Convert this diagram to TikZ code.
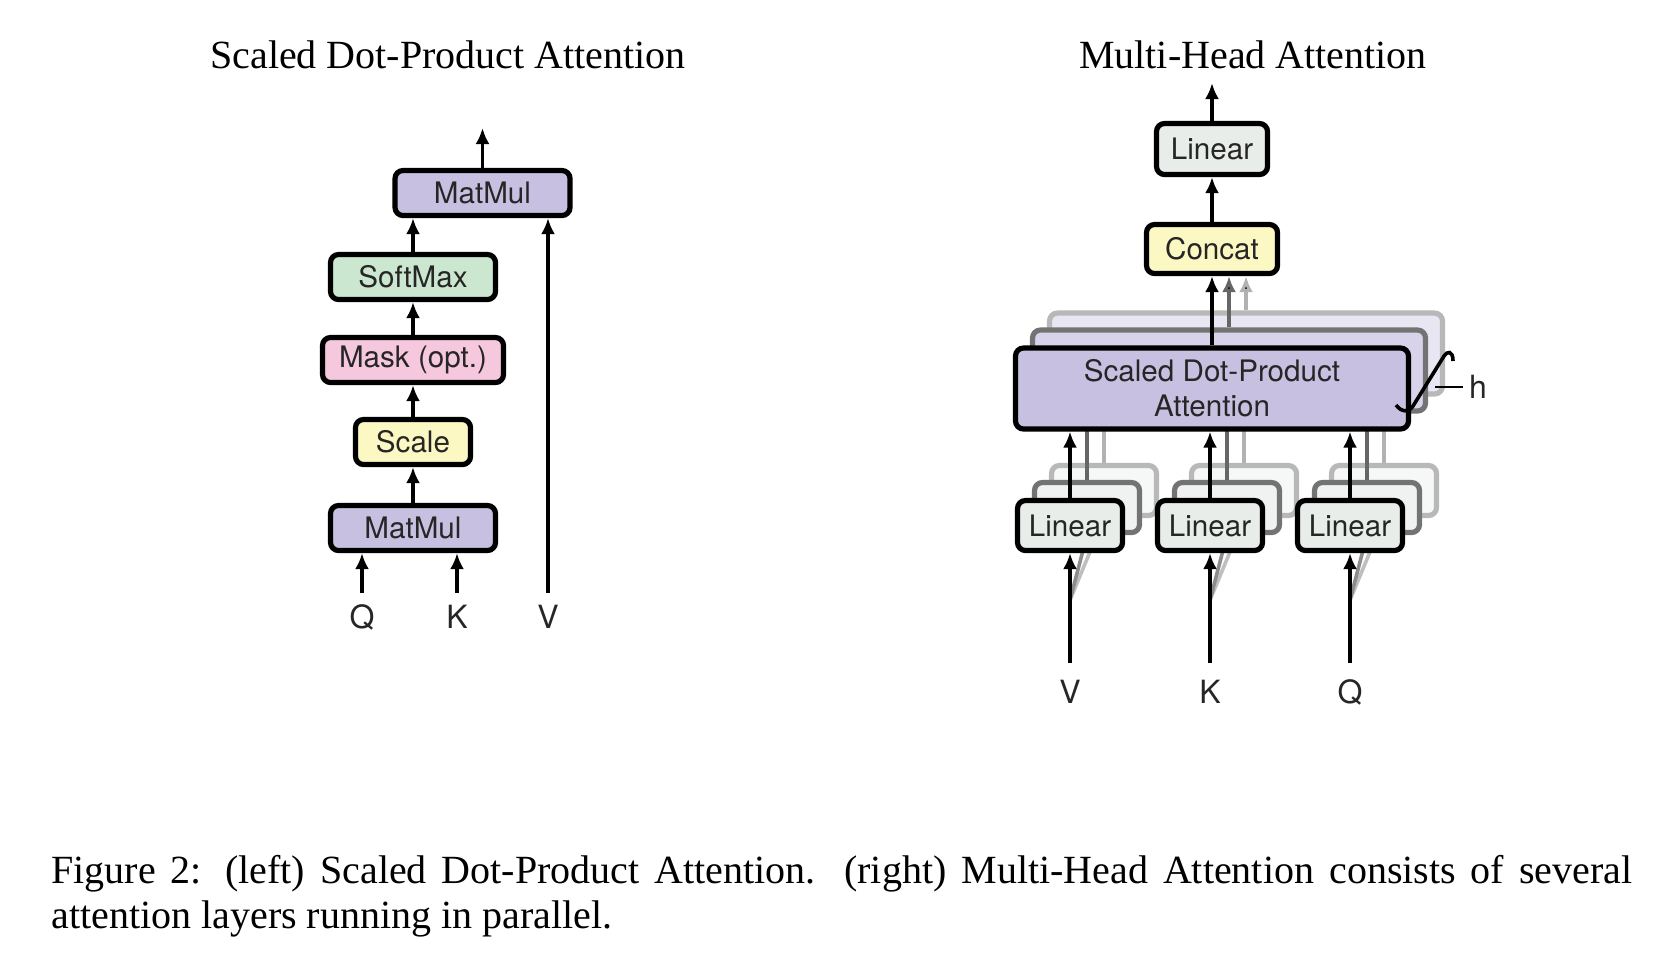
\documentclass[tikz,border=0pt]{standalone}
\usepackage{fontspec}
\setmainfont{Liberation Serif}
\newfontfamily\boxfont{TeX Gyre Heros}
\usetikzlibrary{arrows.meta, positioning}

\definecolor{matmulfill}{RGB}{199,192,225}
\definecolor{softfill}{RGB}{204,231,208}
\definecolor{maskfill}{RGB}{246,200,221}
\definecolor{scalefill}{RGB}{252,248,195}
\definecolor{linfill}{RGB}{232,237,234}

\begin{document}
\begin{tikzpicture}[x=0.5pt, y=-0.5pt, >={Latex[length=8pt,width=7pt]},
    node distance=70pt, align=center]

    \tikzset{
      block/.style = {draw, line width=2.6pt, rounded corners=4pt, inner sep=0pt,
        minimum height=22.5pt, text=black!85, font=\boxfont\fontsize{14.8}{17.5}\selectfont},
      ghostB/.style = {block, draw=black!55, fill=#1},
      ghostC/.style = {block, draw=black!28, fill=#1},
      flow/.style = {->, line width=1.8pt},
      qkv/.style = {font=\boxfont\fontsize{16}{18}\selectfont, text=black!85,
        text height=11.5pt, text depth=0pt, inner sep=6pt},
      title/.style = {font=\fontsize{20}{24}\selectfont},
    }

    \useasboundingbox (0,0) rectangle (1664,960);

    \node[title] (t1) at (448,55) {Scaled Dot-Product Attention};
    \node[title] (t2) at (1253,55) {Multi-Head Attention};

    % left: scaled dot-product attention
    \node[block, fill=matmulfill, minimum width=82.5pt] (mm1)   at (413,528) {MatMul};
    \node[block, fill=scalefill,  minimum width=57.5pt] (scale) at (413,442) {Scale};
    \node[block, fill=maskfill,   minimum width=90.5pt] (mask)  at (413,360) {Mask (opt.)};
    \node[block, fill=softfill,   minimum width=82.5pt] (soft)  at (413,277) {SoftMax};
    \node[block, fill=matmulfill, minimum width=87.5pt] (mm2)   at (482.5,193) {MatMul};
    \coordinate (out1) at (482.5,128);

    \node[qkv] (q1) at (362,617) {Q};
    \node[qkv] (k1) at (457,617) {K};
    \node[qkv] (v1) at (548,617) {V};

    \path[flow]
      (mm1)   edge (scale)
      (scale) edge (mask)
      (mask)  edge (soft)
      (soft)  edge (soft |- mm2.south)
      (mm2)   edge (out1)
      (q1)    edge (q1 |- mm1.south)
      (k1)    edge (k1 |- mm1.south)
      (v1)    edge (v1 |- mm2.south);

    % right: multi-head attention, the heads behind first
    \node[ghostC=matmulfill!40, minimum width=196.5pt, minimum height=40.5pt] (sdpa3) at (1246,353.5) {};
    \node[ghostB=matmulfill!70, minimum width=196.5pt, minimum height=40.5pt] (sdpa2) at (1229,370.5) {};
    \node[block, fill=scalefill, minimum width=65.5pt, minimum height=24.5pt] (cat) at (1212,249) {Concat};

    \path[flow, draw=black!30] (sdpa3) edge (sdpa3 |- cat.south);
    \path[flow, draw=black!60] (sdpa2) edge (sdpa2 |- cat.south);

    \foreach \n/\x in {V/1070, K/1210, Q/1350} {
      \coordinate (in\n) at (\x,600);
      \node[ghostC=linfill!40, minimum width=52.5pt, minimum height=25pt] (lin\n3) at (\x+34,490.5) {};
      \draw[line width=1.8pt, black!25] (in\n) -- (lin\n3.south);
      \path[flow, draw=black!30] (lin\n3) edge (lin\n3 |- sdpa3.south);
      \node[ghostB=linfill!70, minimum width=52.5pt, minimum height=25pt] (lin\n2) at (\x+17,507.5) {};
      \draw[line width=1.8pt, black!45] (in\n) -- (lin\n2.south);
      \path[flow, draw=black!60] (lin\n2) edge (lin\n2 |- sdpa2.south);
    }

    \node[block, fill=matmulfill, minimum width=196.5pt, minimum height=40.5pt] (sdpa) at (1212,388.5)
      {Scaled Dot-Product\\Attention};
    \node[block, fill=linfill, minimum width=55.5pt, minimum height=25.5pt] (linOut) at (1212,149) {Linear};
    \coordinate (out2) at (1212,83);

    \node[block, fill=linfill, minimum width=52.5pt, minimum height=25pt] (linV) at (1070,525.5) {Linear};
    \node[block, fill=linfill, minimum width=52.5pt, minimum height=25pt, right of=linV] (linK) {Linear};
    \node[block, fill=linfill, minimum width=52.5pt, minimum height=25pt, right of=linK] (linQ) {Linear};

    \node[qkv, inner ysep=8.75pt] (v2) at (1070,692) {V};
    \node[qkv, inner ysep=8.75pt] (k2) at (1210,692) {K};
    \node[qkv, inner ysep=8.75pt] (q2) at (1350,692) {Q};

    \path[flow]
      (v2)     edge (v2 |- linV.south)
      (k2)     edge (k2 |- linK.south)
      (q2)     edge (q2 |- linQ.south)
      (linV)   edge (linV |- sdpa.south)
      (linK)   edge (linK |- sdpa.south)
      (linQ)   edge (linQ |- sdpa.south)
      (sdpa)   edge (cat)
      (cat)    edge (linOut)
      (linOut) edge (out2);

    % number of heads
    \draw[line width=1.8pt] (1396,405) .. controls (1402,413) and (1409,412) .. (1413,406)
      -- (1444,356) .. controls (1447,351) and (1453,350) .. (1453,361);
    \coordinate (hb) at (1435,387);
    \node[qkv, inner sep=3pt] (h) at (1478,387) {h};
    \draw[line width=1.2pt] (hb) -- (h.west);

    \node[anchor=north west, inner sep=0pt, text width=790.5pt, align=justify,
      font=\fontsize{20}{22.5}\selectfont] (cap) at (51,855)
      {Figure 2: (left) Scaled Dot-Product Attention. (right) Multi-Head Attention consists of several\linebreak
       attention layers running in parallel.};

  \end{tikzpicture}
\end{document}
